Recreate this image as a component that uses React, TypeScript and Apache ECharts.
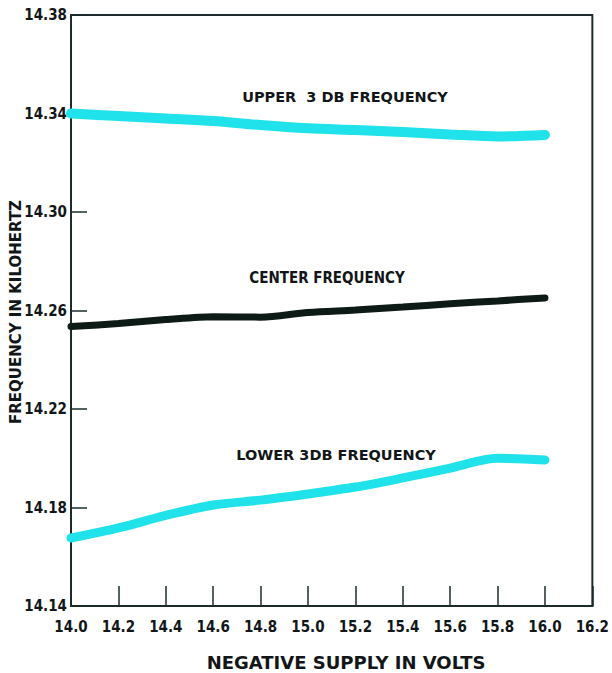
import React, { useEffect, useRef } from "react";
import * as echarts from "echarts";

const supplyVolts = [14.0, 14.2, 14.4, 14.6, 14.8, 15.0, 15.2, 15.4, 15.6, 15.8, 16.0];
const upper3dB = [14.340, 14.339, 14.338, 14.337, 14.3353, 14.334, 14.3333, 14.3325, 14.3315, 14.3307, 14.3313];
const centerFreq = [14.2535, 14.2547, 14.2563, 14.2575, 14.2573, 14.2592, 14.2602, 14.2614, 14.2627, 14.2639, 14.2651];
const lower3dB = [14.1676, 14.1717, 14.1768, 14.1810, 14.1830, 14.1855, 14.1883, 14.1920, 14.1960, 14.2000, 14.1993];

const xTicks = { min: 14.0, max: 16.2, step: 0.2 };
const yTicks = { min: 14.14, max: 14.38, step: 0.04 };

const FONT = "'Liberation Sans Narrow', 'DejaVu Sans Condensed', 'Liberation Sans', Arial, sans-serif";
const WIDE = "'DejaVu Sans', 'Liberation Sans', Arial, sans-serif";
const INK = "#121618";
const AXIS = "#1d2b2f";
const CYAN = "#1fe2ea";

export default function App() {
  const ref = useRef<HTMLDivElement>(null);
  useEffect(() => {
    if (!ref.current) return;
    const chart = echarts.init(ref.current, null, { renderer: "svg" });
    const pairs = (ys: number[]) => supplyVolts.map((x, i) => [x, ys[i]]);
    chart.setOption({
      animation: false,
      backgroundColor: "#ffffff",
      grid: {
        left: 71,
        top: 15,
        right: 12,
        bottom: 67,
        show: true,
        borderColor: AXIS,
        borderWidth: 2,
      },
      xAxis: {
        type: "value",
        min: xTicks.min,
        max: xTicks.max,
        interval: xTicks.step,
        splitLine: { show: false },
        axisLine: { show: true, lineStyle: { color: AXIS, width: 2 } },
        axisTick: { show: true, inside: true, length: 20, lineStyle: { color: AXIS, width: 1.5 } },
        axisLabel: {
          formatter: (v: number) => v.toFixed(1),
          color: INK,
          fontFamily: FONT,
          fontWeight: "bold",
          fontSize: 15,
          margin: 13,
        },
      },
      yAxis: {
        type: "value",
        min: yTicks.min,
        max: yTicks.max,
        interval: yTicks.step,
        splitLine: { show: false },
        axisLine: { show: true, lineStyle: { color: AXIS, width: 2 } },
        axisTick: { show: true, inside: true, length: 16, lineStyle: { color: AXIS, width: 1.5 } },
        axisLabel: {
          formatter: (v: number) => v.toFixed(2),
          color: INK,
          fontFamily: FONT,
          fontWeight: "bold",
          fontSize: 15,
          margin: 4,
        },
      },
      series: [
        {
          name: "UPPER 3 DB FREQUENCY",
          type: "line",
          data: pairs(upper3dB),
          smooth: 0.3,
          symbol: "none",
          lineStyle: { color: CYAN, width: 10, cap: "round" },
        },
        {
          name: "CENTER FREQUENCY",
          type: "line",
          data: pairs(centerFreq),
          smooth: 0.3,
          symbol: "none",
          lineStyle: { color: "#0e1a16", width: 7, cap: "round" },
        },
        {
          name: "LOWER 3DB FREQUENCY",
          type: "line",
          data: pairs(lower3dB),
          smooth: 0.3,
          symbol: "none",
          lineStyle: { color: CYAN, width: 9, cap: "round" },
        },
      ],
      graphic: [
        {
          type: "text",
          x: 345,
          y: 97,
          style: { text: "UPPER  3 DB FREQUENCY", fill: INK, font: `600 14.5px ${WIDE}`, align: "center", verticalAlign: "middle" },
        },
        {
          type: "text",
          x: 327,
          y: 278,
          style: { text: "CENTER FREQUENCY", fill: INK, font: `bold 15px ${FONT}`, align: "center", verticalAlign: "middle" },
        },
        {
          type: "text",
          x: 336,
          y: 455,
          style: { text: "LOWER 3DB FREQUENCY", fill: INK, font: `600 14.5px ${WIDE}`, align: "center", verticalAlign: "middle" },
        },
        {
          type: "text",
          x: 346,
          y: 662,
          style: { text: "NEGATIVE SUPPLY IN VOLTS", fill: INK, font: `600 18px ${WIDE}`, align: "center", verticalAlign: "middle" },
        },
        {
          type: "text",
          x: 16,
          y: 312,
          rotation: Math.PI / 2,
          style: { text: "FREQUENCY IN KILOHERTZ", fill: INK, font: `600 15px ${WIDE}`, align: "center", verticalAlign: "middle" },
        },
      ],
    });
    return () => chart.dispose();
  }, []);
  return <div ref={ref} style={{ position: "absolute", left: 0, top: 0, width: 612, height: 673 }} />;
}
